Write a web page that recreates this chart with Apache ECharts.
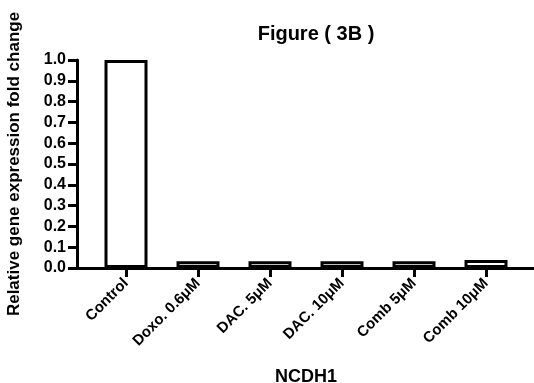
<!DOCTYPE html>
<html>
<head>
<meta charset="utf-8">
<script src="https://cdn.jsdelivr.net/npm/echarts@6/dist/echarts.min.js"></script>
<style>
  html, body { margin: 0; padding: 0; background: #fff; }
  #chart { width: 534px; height: 383px; }
</style>
</head>
<body>
<div id="chart"></div>
<script>
// 数据
const categories = ["Control", "Doxo. 0.6μM", "DAC. 5μM", "DAC. 10μM", "Comb 5μM", "Comb 10μM"];
const foldChange = [1.0, 0.033, 0.032, 0.033, 0.033, 0.038];
const yTicks = [0, 1, 0.1]; // min, max, interval

const chart = echarts.init(document.getElementById("chart"));
const font = "Liberation Sans, Arial, sans-serif";

chart.setOption({
  animation: false,
  title: {
    text: "Figure ( 3B )",
    left: 311,
    top: 19,
    textAlign: "center",
    textStyle: { fontFamily: font, fontSize: 20, fontWeight: "bold", color: "#000" }
  },
  grid: [
    // 轴线用的网格
    { left: 77, right: 0, top: 60, bottom: 115, outerBoundsMode: "none" },
    // 柱子用的网格
    { left: 90, right: 12, top: 60, bottom: 115, outerBoundsMode: "none" }
  ],
  xAxis: [
    {
      gridIndex: 0,
      type: "value",
      min: 0,
      max: 1,
      axisLine: { show: true, lineStyle: { color: "#000", width: 3 } },
      axisTick: { show: false },
      axisLabel: { show: false },
      splitLine: { show: false }
    },
    {
      gridIndex: 1,
      type: "category",
      data: categories,
      name: "NCDH1",
      nameLocation: "middle",
      nameGap: 100,
      nameTextStyle: { fontFamily: font, fontSize: 18, fontWeight: "bold", color: "#000" },
      axisLine: { show: false },
      axisTick: { show: true, alignWithLabel: true, length: 9, lineStyle: { color: "#000", width: 3 } },
      axisLabel: {
        rotate: 45,
        interval: 0,
        margin: 13,
        fontFamily: font,
        fontSize: 15,
        fontWeight: "bold",
        color: "#000"
      }
    }
  ],
  yAxis: [
    {
      gridIndex: 0,
      type: "value",
      min: yTicks[0],
      max: yTicks[1],
      interval: yTicks[2],
      name: "Relative gene expression fold change",
      nameLocation: "middle",
      nameGap: 54,
      nameTextStyle: { fontFamily: font, fontSize: 17, fontWeight: "bold", color: "#000" },
      axisLine: { show: true, lineStyle: { color: "#000", width: 3 } },
      axisTick: { show: true, length: 9, lineStyle: { color: "#000", width: 3 } },
      axisLabel: {
        margin: 11,
        fontFamily: font,
        fontSize: 16,
        fontWeight: "bold",
        color: "#000",
        formatter: v => v.toFixed(1)
      },
      splitLine: { show: false }
    },
    {
      gridIndex: 1,
      type: "value",
      min: yTicks[0],
      max: yTicks[1],
      show: false
    }
  ],
  series: [
    {
      type: "bar",
      xAxisIndex: 1,
      yAxisIndex: 1,
      data: foldChange,
      barWidth: 43,
      itemStyle: { color: "#fff", borderColor: "#000", borderWidth: 3 }
    }
  ]
});
</script>
</body>
</html>
